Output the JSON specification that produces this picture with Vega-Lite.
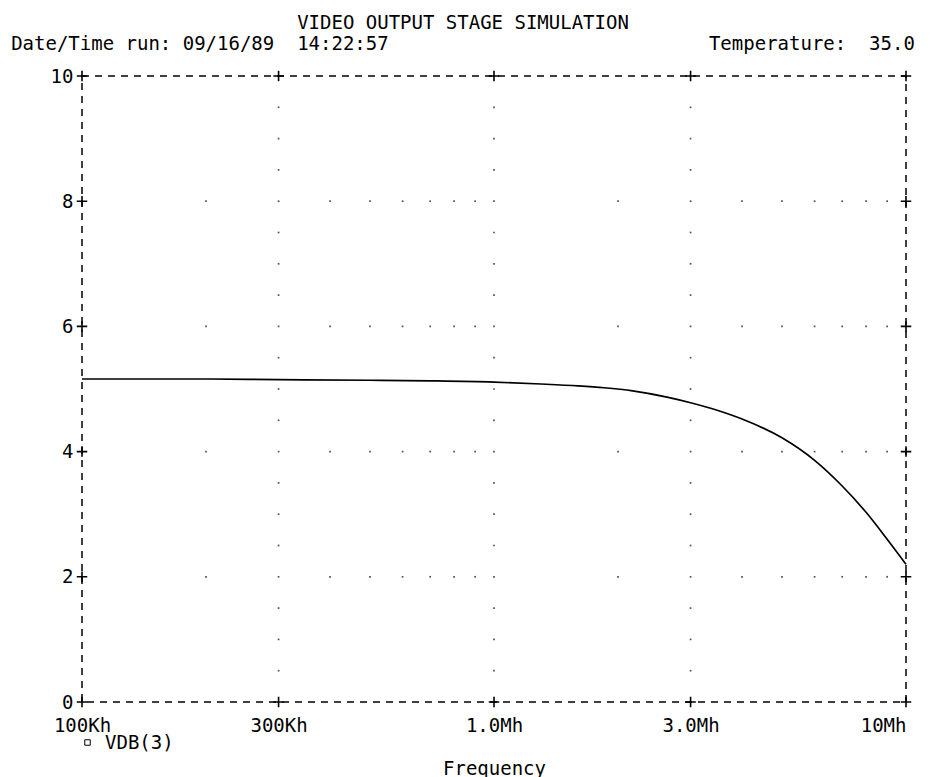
{
  "$schema": "https://vega.github.io/schema/vega-lite/v6.json",
  "width": 824,
  "height": 626,
  "autosize": {"type": "none"},
  "padding": {"left": 82, "top": 76, "right": 27, "bottom": 75},
  "background": "white",
  "config": {
    "font": "DejaVu Sans Mono",
    "view": {"stroke": "black", "strokeDash": [7, 6], "strokeWidth": 1.5}
  },
  "title": {
    "text": "VIDEO OUTPUT STAGE SIMULATION",
    "subtitle": "Date/Time run: 09/16/89\u00a0\u00a014:22:57\u00a0\u00a0\u00a0\u00a0\u00a0\u00a0\u00a0\u00a0\u00a0\u00a0\u00a0\u00a0\u00a0\u00a0\u00a0\u00a0\u00a0\u00a0\u00a0\u00a0\u00a0\u00a0\u00a0\u00a0\u00a0\u00a0\u00a0\u00a0Temperature:\u00a0\u00a035.0",
    "anchor": "middle",
    "dx": -31,
    "offset": 13,
    "font": "DejaVu Sans Mono",
    "fontSize": 19,
    "fontWeight": "normal",
    "color": "black",
    "subtitleFont": "DejaVu Sans Mono",
    "subtitleFontSize": 19,
    "subtitleColor": "black",
    "subtitlePadding": 2
  },
  "datasets": {
    "curve": [
      {"x": 100000, "y": 5.16, "s": "VDB(3)"},
      {"x": 200000, "y": 5.16, "s": "VDB(3)"},
      {"x": 300000, "y": 5.15, "s": "VDB(3)"},
      {"x": 500000, "y": 5.14, "s": "VDB(3)"},
      {"x": 700000, "y": 5.13, "s": "VDB(3)"},
      {"x": 1000000, "y": 5.11, "s": "VDB(3)"},
      {"x": 1300000, "y": 5.08, "s": "VDB(3)"},
      {"x": 1600000, "y": 5.05, "s": "VDB(3)"},
      {"x": 1850000, "y": 5.02, "s": "VDB(3)"},
      {"x": 2170000, "y": 4.97, "s": "VDB(3)"},
      {"x": 2630000, "y": 4.87, "s": "VDB(3)"},
      {"x": 3000000, "y": 4.78, "s": "VDB(3)"},
      {"x": 3480000, "y": 4.66, "s": "VDB(3)"},
      {"x": 4000000, "y": 4.52, "s": "VDB(3)"},
      {"x": 5000000, "y": 4.22, "s": "VDB(3)"},
      {"x": 6000000, "y": 3.86, "s": "VDB(3)"},
      {"x": 7000000, "y": 3.45, "s": "VDB(3)"},
      {"x": 8000000, "y": 3.03, "s": "VDB(3)"},
      {"x": 9000000, "y": 2.6, "s": "VDB(3)"},
      {"x": 10000000, "y": 2.2, "s": "VDB(3)"}
    ],
    "crosses": [
      {"x": 100000, "y": 0}, {"x": 100000, "y": 2}, {"x": 100000, "y": 4}, {"x": 100000, "y": 6}, {"x": 100000, "y": 8}, {"x": 100000, "y": 10},
      {"x": 10000000, "y": 0}, {"x": 10000000, "y": 2}, {"x": 10000000, "y": 4}, {"x": 10000000, "y": 6}, {"x": 10000000, "y": 8}, {"x": 10000000, "y": 10},
      {"x": 300000, "y": 0}, {"x": 300000, "y": 10}, {"x": 1000000, "y": 0}, {"x": 1000000, "y": 10}, {"x": 3000000, "y": 0}, {"x": 3000000, "y": 10}
    ],
    "dots": [
      {"x": 200000, "y": 2}, {"x": 300000, "y": 2}, {"x": 400000, "y": 2}, {"x": 500000, "y": 2}, {"x": 600000, "y": 2}, {"x": 700000, "y": 2}, {"x": 800000, "y": 2}, {"x": 900000, "y": 2}, {"x": 1000000, "y": 2}, {"x": 2000000, "y": 2}, {"x": 3000000, "y": 2}, {"x": 4000000, "y": 2}, {"x": 5000000, "y": 2}, {"x": 6000000, "y": 2}, {"x": 7000000, "y": 2}, {"x": 8000000, "y": 2}, {"x": 9000000, "y": 2},
      {"x": 200000, "y": 4}, {"x": 300000, "y": 4}, {"x": 400000, "y": 4}, {"x": 500000, "y": 4}, {"x": 600000, "y": 4}, {"x": 700000, "y": 4}, {"x": 800000, "y": 4}, {"x": 900000, "y": 4}, {"x": 1000000, "y": 4}, {"x": 2000000, "y": 4}, {"x": 3000000, "y": 4}, {"x": 4000000, "y": 4}, {"x": 5000000, "y": 4}, {"x": 6000000, "y": 4}, {"x": 7000000, "y": 4}, {"x": 8000000, "y": 4}, {"x": 9000000, "y": 4},
      {"x": 200000, "y": 6}, {"x": 300000, "y": 6}, {"x": 400000, "y": 6}, {"x": 500000, "y": 6}, {"x": 600000, "y": 6}, {"x": 700000, "y": 6}, {"x": 800000, "y": 6}, {"x": 900000, "y": 6}, {"x": 1000000, "y": 6}, {"x": 2000000, "y": 6}, {"x": 3000000, "y": 6}, {"x": 4000000, "y": 6}, {"x": 5000000, "y": 6}, {"x": 6000000, "y": 6}, {"x": 7000000, "y": 6}, {"x": 8000000, "y": 6}, {"x": 9000000, "y": 6},
      {"x": 200000, "y": 8}, {"x": 300000, "y": 8}, {"x": 400000, "y": 8}, {"x": 500000, "y": 8}, {"x": 600000, "y": 8}, {"x": 700000, "y": 8}, {"x": 800000, "y": 8}, {"x": 900000, "y": 8}, {"x": 1000000, "y": 8}, {"x": 2000000, "y": 8}, {"x": 3000000, "y": 8}, {"x": 4000000, "y": 8}, {"x": 5000000, "y": 8}, {"x": 6000000, "y": 8}, {"x": 7000000, "y": 8}, {"x": 8000000, "y": 8}, {"x": 9000000, "y": 8},
      {"x": 300000, "y": 0.5}, {"x": 300000, "y": 1}, {"x": 300000, "y": 1.5}, {"x": 300000, "y": 2.5}, {"x": 300000, "y": 3}, {"x": 300000, "y": 3.5}, {"x": 300000, "y": 4.5}, {"x": 300000, "y": 5}, {"x": 300000, "y": 5.5}, {"x": 300000, "y": 6.5}, {"x": 300000, "y": 7}, {"x": 300000, "y": 7.5}, {"x": 300000, "y": 8.5}, {"x": 300000, "y": 9}, {"x": 300000, "y": 9.5},
      {"x": 1000000, "y": 0.5}, {"x": 1000000, "y": 1}, {"x": 1000000, "y": 1.5}, {"x": 1000000, "y": 2.5}, {"x": 1000000, "y": 3}, {"x": 1000000, "y": 3.5}, {"x": 1000000, "y": 4.5}, {"x": 1000000, "y": 5}, {"x": 1000000, "y": 5.5}, {"x": 1000000, "y": 6.5}, {"x": 1000000, "y": 7}, {"x": 1000000, "y": 7.5}, {"x": 1000000, "y": 8.5}, {"x": 1000000, "y": 9}, {"x": 1000000, "y": 9.5},
      {"x": 3000000, "y": 0.5}, {"x": 3000000, "y": 1}, {"x": 3000000, "y": 1.5}, {"x": 3000000, "y": 2.5}, {"x": 3000000, "y": 3}, {"x": 3000000, "y": 3.5}, {"x": 3000000, "y": 4.5}, {"x": 3000000, "y": 5}, {"x": 3000000, "y": 5.5}, {"x": 3000000, "y": 6.5}, {"x": 3000000, "y": 7}, {"x": 3000000, "y": 7.5}, {"x": 3000000, "y": 8.5}, {"x": 3000000, "y": 9}, {"x": 3000000, "y": 9.5}
    ]
  },
  "encoding": {
    "x": {
      "field": "x",
      "type": "quantitative",
      "scale": {"type": "log", "domain": [100000, 10000000], "nice": false},
      "axis": {
        "title": "Frequency",
        "values": [100000, 300000, 1000000, 3000000, 10000000],
        "labelExpr": "datum.value >= 9000000 ? '10Mh' : datum.value >= 2000000 ? '3.0Mh' : datum.value >= 900000 ? '1.0Mh' : datum.value >= 200000 ? '300Kh' : '100Kh'",
        "domain": false,
        "ticks": false,
        "tickSize": 0,
        "grid": false,
        "labelFont": "DejaVu Sans Mono",
        "labelFontSize": 19,
        "labelColor": "black",
        "labelBaseline": "middle",
        "labelPadding": 23,
        "labelAlign": {"condition": {"test": "datum.value >= 9000000", "value": "right"}, "value": "center"},
        "labelFlush": false,
        "labelOverlap": false,
        "titleFont": "DejaVu Sans Mono",
        "titleFontSize": 19,
        "titleFontWeight": "normal",
        "titleColor": "black",
        "titleBaseline": "middle",
        "titleY": 66
      }
    },
    "y": {
      "field": "y",
      "type": "quantitative",
      "scale": {"domain": [0, 10], "nice": false},
      "axis": {
        "title": null,
        "values": [0, 2, 4, 6, 8, 10],
        "domain": false,
        "ticks": false,
        "tickSize": 0,
        "grid": false,
        "labelFont": "DejaVu Sans Mono",
        "labelFontSize": 19,
        "labelColor": "black",
        "labelPadding": 9,
        "labelBaseline": "middle",
        "labelFlush": false,
        "labelOverlap": false
      }
    }
  },
  "layer": [
    {
      "data": {"name": "dots"},
      "mark": {"type": "point", "shape": "square", "size": 3, "filled": true, "color": "#555555", "opacity": 1}
    },
    {
      "data": {"name": "curve"},
      "mark": {"type": "line", "strokeWidth": 1.7, "interpolate": "monotone"},
      "encoding": {
        "color": {
          "field": "s",
          "type": "nominal",
          "scale": {"range": ["black"]},
          "legend": {
            "title": null,
            "orient": "none",
            "legendX": -4,
            "legendY": 657,
            "symbolType": "square",
            "symbolSize": 30,
            "symbolFillColor": "white",
            "symbolStrokeColor": "black",
            "symbolStrokeWidth": 1,
            "labelFont": "DejaVu Sans Mono",
            "labelFontSize": 19,
            "labelColor": "black",
            "labelOffset": 8,
            "padding": 0
          }
        }
      }
    },
    {
      "data": {"name": "crosses"},
      "mark": {"type": "point", "shape": "M-1,0H1M0,-1V1", "size": 110, "filled": false, "color": "black", "strokeWidth": 1.6, "opacity": 1}
    }
  ]
}
